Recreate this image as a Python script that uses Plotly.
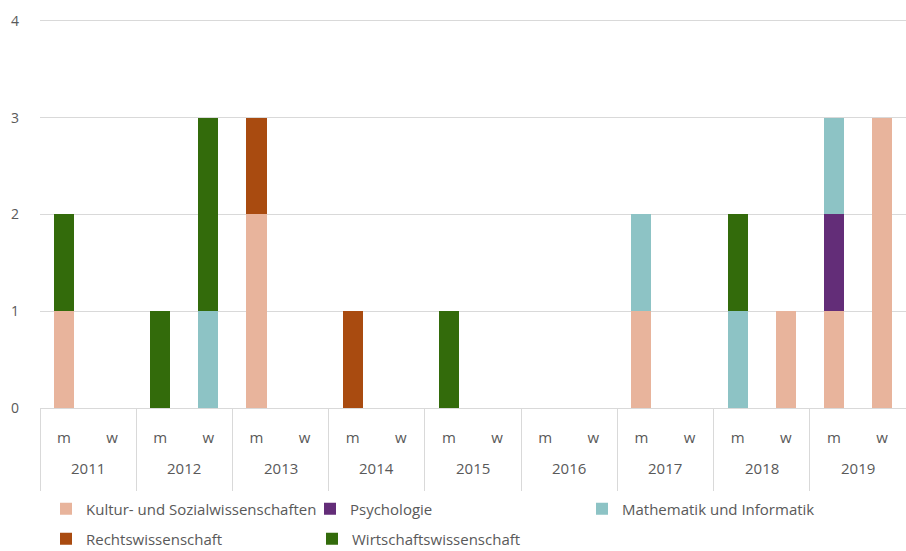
import plotly.graph_objects as go

# Group labels: year (outer) and gender (inner)
years = ["2011", "2011", "2012", "2012", "2013", "2013", "2014", "2014", "2015", "2015",
         "2016", "2016", "2017", "2017", "2018", "2018", "2019", "2019"]
gender = ["m", "w"] * 9

# Counts per field, one value per (year, gender) slot
kultur = [1, 0, 0, 0, 2, 0, 0, 0, 0, 0, 0, 0, 1, 0, 0, 1, 1, 3]
psychologie = [0, 0, 0, 0, 0, 0, 0, 0, 0, 0, 0, 0, 0, 0, 0, 0, 1, 0]
mathematik = [0, 0, 0, 1, 0, 0, 0, 0, 0, 0, 0, 0, 1, 0, 1, 0, 1, 0]
recht = [0, 0, 0, 0, 1, 0, 1, 0, 0, 0, 0, 0, 0, 0, 0, 0, 0, 0]
wirtschaft = [1, 0, 1, 2, 0, 0, 0, 0, 1, 0, 0, 0, 0, 0, 1, 0, 0, 0]

# name, values, colour, legend slot (x in px, y in px from top)
series = [
    ("Kultur- und Sozialwissenschaften", kultur, "#E8B49C", "legend", 46, 509),
    ("Psychologie", psychologie, "#632D78", "legend2", 310, 509),
    ("Mathematik und Informatik", mathematik, "#8DC3C5", "legend3", 582, 509),
    ("Rechtswissenschaft", recht, "#A94B10", "legend4", 46, 539),
    ("Wirtschaftswissenschaft", wirtschaft, "#336B0B", "legend5", 312, 539),
]

FONT = "Open Sans"
GREY = "#595959"
LINE = "#D9D9D9"
W, H = 906, 551

# slot positions along x, one per (year, gender) pair
slots = list(range(len(years)))
year_names = sorted(set(years))
year_centres = [sum(i for i in slots if years[i] == y) / years.count(y) for y in year_names]
x_range = [-0.5, len(slots) - 0.5]

fig = go.Figure()
legends = {}
for name, vals, color, lg, lx, ly in series:
    fig.add_trace(go.Bar(
        x=slots, y=vals, name=name,
        marker=dict(color=color, line=dict(width=0)),
        legend=lg, showlegend=True,
    ))
    legends[lg] = dict(
        orientation="h", xref="container", yref="container",
        x=lx / W, y=1 - ly / H, xanchor="left", yanchor="middle",
        font=dict(family=FONT, size=15, color=GREY), bgcolor="rgba(0,0,0,0)",
        itemwidth=30,
    )

# outer level of the category axis: one year label per group
for yname, xc in zip(year_names, year_centres):
    fig.add_annotation(
        x=xc, xref="x", y=0, yref="paper", yanchor="middle", yshift=-60,
        text=yname, showarrow=False,
        font=dict(family=FONT, size=15, color=GREY),
    )

fig.update_layout(
    width=W, height=H, showlegend=True,
    barmode="stack", bargap=0.58,
    paper_bgcolor="white", plot_bgcolor="white",
    margin=dict(l=40, r=0, t=19, b=143),
    font=dict(family=FONT, color=GREY, size=15),
    # inner level: m / w, with group dividers as minor ticks
    xaxis=dict(
        range=x_range, tickvals=slots, ticktext=gender,
        showline=True, linecolor=LINE, linewidth=1,
        showgrid=False, zeroline=False, ticks="",
        tickfont=dict(family=FONT, size=15, color=GREY),
        ticklabelstandoff=16,
        minor=dict(tick0=-0.5, dtick=2, ticks="outside", ticklen=82,
                   tickcolor=LINE, tickwidth=1, showgrid=False),
    ),
    yaxis=dict(
        range=[0, 4.02], tickvals=[0, 1, 2, 3, 4], showgrid=True,
        gridcolor=LINE, gridwidth=1,
        zeroline=False, showline=False, ticks="",
        tickfont=dict(family=FONT, size=14, color=GREY),
        ticklabelstandoff=20,
    ),
    **legends,
)

fig.write_html("out.html")
